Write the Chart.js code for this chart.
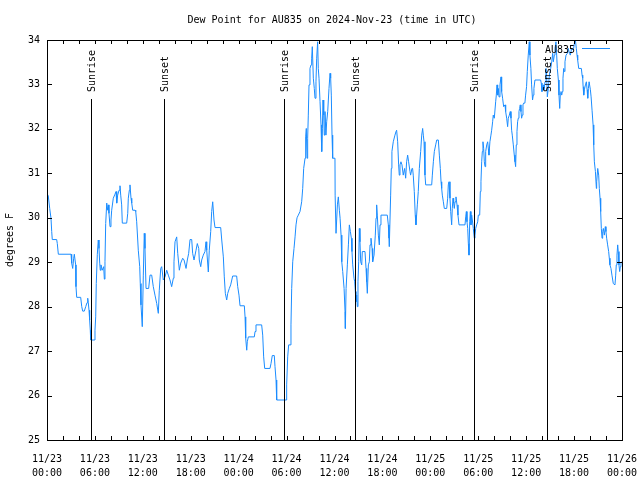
<!DOCTYPE html>
<html>
<head>
<meta charset="utf-8">
<script src="https://cdn.jsdelivr.net/npm/chart.js@4.4.1/dist/chart.umd.min.js"></script>
<style>
html,body{margin:0;padding:0;background:#fff;}
canvas{display:block;}
</style>
</head>
<body>
<canvas id="c" width="640" height="480"></canvas>
<script>
// ---- data (hours since 2024-11-23 00:00 UTC, dew point in °F) ----
const hours = [
0.00,0.16,0.34,0.50,0.59,0.66,1.21,1.29,1.42,3.01,3.09,3.22,3.34,3.42,3.59,3.63,3.72,4.22,4.35,4.47,
4.67,4.85,5.01,5.10,5.17,5.26,5.34,5.42,5.47,5.92,6.01,6.10,6.17,6.30,6.42,6.51,6.60,6.67,6.76,6.92,
7.10,7.18,7.26,7.35,7.48,7.60,7.68,7.76,7.89,8.01,8.10,8.30,8.51,8.64,8.73,8.85,9.02,9.14,9.23,9.35,
9.43,9.98,10.11,10.18,10.31,10.39,10.52,10.61,10.73,11.02,11.11,11.23,11.36,11.43,11.61,11.68,11.77,11.93,12.06,12.18,
12.27,12.40,12.73,12.90,13.11,13.31,13.52,13.74,13.94,14.06,14.24,14.36,14.56,14.78,14.99,15.19,15.40,15.61,15.82,15.90,
16.03,16.24,16.37,16.57,16.74,16.99,17.16,17.41,17.57,17.74,17.91,18.12,18.24,18.41,18.66,18.82,19.00,19.07,19.25,19.37,
19.57,19.78,19.91,20.00,20.20,20.32,20.50,20.62,20.75,20.91,21.04,21.75,21.88,22.08,22.20,22.33,22.50,22.63,22.83,23.00,
23.25,23.75,23.88,24.04,24.17,24.71,24.80,24.88,25.01,25.08,25.21,25.96,26.05,26.17,26.88,27.01,27.13,27.26,27.92,28.05,
28.21,28.46,28.55,28.68,28.76,29.93,30.01,30.14,30.26,30.43,30.55,30.64,30.77,30.93,31.06,31.18,31.31,31.47,31.68,31.89,
32.02,32.14,32.31,32.39,32.47,32.56,32.64,32.72,32.81,32.93,33.06,33.14,33.22,33.35,33.47,33.56,33.68,33.77,33.89,33.97,
34.06,34.19,34.31,34.40,34.48,34.56,34.65,34.72,34.81,34.93,35.02,35.15,35.31,35.44,35.52,35.60,35.69,35.77,36.06,36.08,
36.19,36.36,36.48,36.61,36.70,36.82,36.91,37.03,37.20,37.32,37.36,37.45,37.53,37.61,37.74,37.86,37.99,38.11,38.19,38.28,
38.44,38.53,38.61,38.69,38.78,38.86,38.94,39.03,39.11,39.19,39.28,39.41,39.48,39.82,39.95,40.03,40.11,40.24,40.36,40.45,
40.57,40.70,40.78,40.95,41.11,41.20,41.28,41.36,41.49,41.61,41.70,41.82,42.61,42.74,42.82,42.86,43.03,43.11,43.19,43.36,
43.57,43.70,43.78,43.91,44.03,44.11,44.20,44.32,44.45,44.61,44.78,44.91,45.03,45.16,45.28,45.45,45.53,45.70,45.78,45.86,
45.99,46.11,46.20,46.37,46.49,46.62,46.79,46.92,47.04,47.12,47.21,47.33,47.42,48.17,48.25,48.38,48.50,48.67,48.80,49.00,
49.13,49.25,49.34,49.42,49.50,49.63,49.75,50.05,50.17,50.25,50.34,50.46,50.55,50.67,50.75,50.84,50.92,51.00,51.09,51.21,
51.34,51.46,51.59,52.34,52.43,52.51,52.59,52.68,52.76,52.84,52.93,53.01,53.09,53.18,53.26,53.38,53.51,53.59,53.68,53.80,
53.93,54.01,54.18,54.26,54.34,54.43,54.51,54.59,54.68,54.76,54.85,54.93,55.06,55.18,55.26,55.34,55.46,55.59,55.68,55.80,
55.88,56.01,56.18,56.26,56.35,56.43,56.51,56.60,56.72,56.85,56.93,57.05,57.18,57.35,57.43,57.56,57.68,57.76,57.89,58.01,
58.10,58.18,58.26,58.39,58.51,58.60,58.68,58.76,58.85,58.93,59.01,59.10,59.18,59.26,59.35,59.43,59.51,59.60,59.68,59.84,
59.93,60.05,60.14,60.26,60.39,60.47,60.59,60.68,60.80,60.89,60.97,61.10,61.81,61.89,61.98,62.15,62.23,62.36,62.48,62.57,
62.65,62.78,62.90,63.07,63.20,63.32,63.40,63.53,63.61,63.73,63.82,63.90,64.03,64.11,64.20,64.28,64.36,64.45,64.53,64.61,
64.70,64.78,64.86,64.99,65.16,65.28,65.41,65.53,65.69,65.86,65.94,66.07,66.16,66.28,66.37,66.45,66.58,66.91,67.00,67.08,
67.13,67.21,67.29,67.42,67.54,67.63,67.71,67.79,67.88,67.96,68.04,68.13,68.25,68.38,68.46,68.54,68.67,68.79,68.83,68.96,
69.08,69.16,69.25,69.33,69.41,69.50,69.58,69.66,69.79,69.91,69.99,70.08,70.20,70.33,70.41,70.49,70.62,70.74,70.91,71.12,
71.21,71.28,71.37,71.46,71.53,71.62,71.71,71.79,71.87,72.00
];
const dewPoint = [
30.55,30.49,30.21,29.99,29.69,29.51,29.51,29.42,29.18,29.18,28.98,28.86,29.09,29.18,28.94,28.45,28.21,28.21,28.00,27.90,
27.90,28.00,28.09,28.19,28.09,27.92,27.70,27.47,27.25,27.25,27.47,27.77,28.52,29.18,29.50,29.31,28.98,28.82,28.94,28.82,
28.90,28.62,29.01,29.87,30.33,30.17,30.29,30.10,29.80,29.95,30.17,30.44,30.53,30.59,30.33,30.51,30.62,30.72,30.51,30.29,
29.88,29.88,30.10,30.44,30.62,30.74,30.44,30.33,30.17,30.17,30.14,29.91,29.50,29.27,28.90,28.52,28.04,27.55,28.71,29.65,
29.31,28.41,28.41,28.71,28.71,28.45,28.26,28.07,27.85,28.37,28.86,28.90,28.60,28.67,28.82,28.71,28.60,28.45,28.64,29.01,
29.46,29.57,29.20,28.82,28.98,29.09,29.05,28.86,29.05,29.20,29.51,29.51,29.20,29.05,29.27,29.42,29.31,29.05,28.90,29.05,
29.16,29.24,29.46,29.27,28.78,29.27,29.69,30.14,30.36,29.95,29.78,29.78,29.50,29.12,28.67,28.30,28.15,28.30,28.41,28.49,
28.69,28.69,28.45,28.26,28.02,28.02,27.77,27.29,27.02,27.21,27.32,27.32,27.44,27.59,27.59,27.36,26.87,26.61,26.61,26.72,
26.90,26.90,26.65,26.35,25.90,25.90,26.24,26.87,27.14,27.14,27.59,28.41,29.01,29.31,29.57,29.84,30.00,30.06,30.14,30.36,
30.66,31.11,31.34,31.82,32.01,31.34,31.79,32.31,32.99,33.36,33.44,33.59,33.85,33.14,32.91,32.69,33.06,33.59,33.96,33.36,
33.14,32.61,32.09,31.49,32.01,32.65,32.31,31.86,32.39,31.86,32.16,32.39,32.91,33.25,33.14,32.76,31.86,31.34,31.34,30.51,
29.65,30.29,30.47,30.17,29.99,29.61,29.01,28.79,28.41,27.89,27.51,28.41,28.41,28.94,29.39,29.84,29.69,29.54,29.24,28.94,
28.64,28.56,28.34,28.11,28.26,28.00,28.56,29.01,29.76,29.46,29.01,28.94,29.24,29.24,28.86,28.56,28.30,28.94,29.01,29.39,
29.54,29.31,29.01,29.16,29.61,29.99,30.29,30.06,29.61,29.39,29.84,30.06,30.06,29.84,29.54,29.35,30.51,31.11,31.49,31.71,
31.86,31.94,31.97,31.71,31.19,30.96,31.19,31.26,31.19,30.96,31.11,30.89,31.26,31.41,31.26,31.04,30.96,31.11,31.11,30.96,
30.59,30.06,29.84,30.29,30.59,31.11,31.49,31.86,32.01,31.86,31.71,30.96,30.74,30.74,30.96,31.26,31.49,31.64,31.75,31.75,
31.41,31.11,30.81,30.66,30.51,30.36,30.21,30.21,30.44,30.74,30.81,30.44,30.14,29.84,30.21,30.44,30.33,30.21,30.36,30.47,
30.29,30.06,29.84,29.84,30.02,30.14,29.91,29.76,29.42,29.16,29.91,30.14,29.84,30.06,29.95,29.76,29.54,29.61,29.76,29.84,
29.91,30.06,30.06,30.59,30.81,31.26,31.49,31.71,31.56,31.26,31.15,31.49,31.64,31.71,31.56,31.41,31.71,31.86,31.97,32.16,
32.31,32.24,32.61,32.76,32.99,32.76,32.91,32.72,32.99,33.17,32.84,32.69,32.50,32.54,32.39,32.24,32.05,32.24,32.31,32.39,
32.24,31.97,31.86,31.64,31.41,31.26,31.15,31.64,31.94,32.16,32.24,32.39,32.46,32.54,32.39,32.24,32.31,32.54,32.58,32.58,
32.76,32.95,33.29,33.66,33.96,33.66,33.36,32.99,32.65,32.76,32.91,33.10,33.10,33.03,32.84,32.99,32.88,33.06,33.36,33.21,
32.72,32.91,33.21,33.36,33.51,33.70,33.51,33.66,33.81,33.96,33.66,33.36,33.10,32.76,32.46,32.80,32.84,32.76,32.84,33.14,
33.36,33.29,33.51,33.66,33.70,33.81,33.70,33.66,33.81,33.78,33.81,33.96,34.00,33.81,33.66,33.55,33.36,33.36,33.21,33.14,
32.95,32.76,32.88,32.99,33.06,32.88,32.69,32.91,33.06,33.06,32.88,32.72,32.42,32.09,31.64,31.26,31.04,30.66,30.81,31.11,
30.96,30.66,30.44,30.14,29.76,29.54,29.69,29.76,29.61,29.80,29.69,29.54,29.39,29.24,29.09,28.94,28.86,28.71,28.52,28.49,
28.71,28.94,29.16,29.39,29.24,28.94,28.79,28.90,29.00,29.00
];
const xTickLabels = [
  ['11/23','00:00'],['11/23','06:00'],['11/23','12:00'],['11/23','18:00'],
  ['11/24','00:00'],['11/24','06:00'],['11/24','12:00'],['11/24','18:00'],
  ['11/25','00:00'],['11/25','06:00'],['11/25','12:00'],['11/25','18:00'],
  ['11/26','00:00']
];
const eventNames = ['Sunrise','Sunset','Sunrise','Sunset','Sunrise','Sunset'];
const eventHours = [5.55, 14.69, 29.64, 38.61, 53.51, 62.65];
const seriesName = 'AU835';
const chartTitle = 'Dew Point for AU835 on 2024-Nov-23 (time in UTC)';
const yAxisTitle = 'degrees F';

const FONT = 'DejaVu Sans Mono';
const LINE_COLOR = '#1a8cff';

const points = hours.map((h, i) => ({x: h, y: dewPoint[i]}));

const decor = {
  id: 'decor',
  afterDatasetsDraw(chart) {
    const ctx = chart.ctx;
    const a = chart.chartArea;
    const xs = chart.scales.x, ys = chart.scales.y;
    ctx.save();
    ctx.strokeStyle = '#000';
    ctx.lineWidth = 1;
    ctx.fillStyle = '#000';
    ctx.font = '10px "' + FONT + '"';
    // sunrise / sunset markers
    eventHours.forEach((h, i) => {
      const px = Math.round(xs.getPixelForValue(h)) + 0.5;
      const top = a.top + 59;
      ctx.beginPath();
      ctx.moveTo(px, top);
      ctx.lineTo(px, a.bottom);
      ctx.stroke();
      ctx.save();
      ctx.translate(px + 1, top - 7);
      ctx.rotate(-Math.PI / 2);
      ctx.textAlign = 'left';
      ctx.textBaseline = 'middle';
      ctx.fillText(eventNames[i], 0, 0);
      ctx.restore();
    });
    // border
    ctx.strokeRect(Math.round(a.left) + 0.5, Math.round(a.top) + 0.5,
                   Math.round(a.right - a.left), Math.round(a.bottom - a.top));
    // inward ticks
    ctx.beginPath();
    for (let h = 0; h <= 72; h += 2) {
      const px = Math.round(xs.getPixelForValue(h)) + 0.5;
      ctx.moveTo(px, a.bottom); ctx.lineTo(px, a.bottom - 4);
      ctx.moveTo(px, a.top); ctx.lineTo(px, a.top + 4);
    }
    for (let v = 25; v <= 34; v += 1) {
      const py = Math.round(ys.getPixelForValue(v)) + 0.5;
      ctx.moveTo(a.left, py); ctx.lineTo(a.left + 5, py);
      ctx.moveTo(a.right, py); ctx.lineTo(a.right - 5, py);
    }
    ctx.stroke();
    // legend
    ctx.textAlign = 'right';
    ctx.textBaseline = 'middle';
    ctx.fillStyle = '#000';
    ctx.fillText(chart.data.datasets[0].label, a.right - 47, a.top + 10);
    ctx.strokeStyle = LINE_COLOR;
    ctx.beginPath();
    ctx.moveTo(a.right - 40, a.top + 8.5);
    ctx.lineTo(a.right - 12, a.top + 8.5);
    ctx.stroke();
    // title
    ctx.textAlign = 'center';
    ctx.fillStyle = '#000';
    ctx.fillText(chartTitle, 332, 20);
    ctx.restore();
  }
};

new Chart(document.getElementById('c'), {
  type: 'line',
  data: {
    datasets: [{
      label: seriesName,
      data: points,
      borderColor: LINE_COLOR,
      borderWidth: 1,
      pointRadius: 0,
      tension: 0,
      fill: false
    }]
  },
  options: {
    responsive: false,
    animation: false,
    devicePixelRatio: 1,
    parsing: false,
    layout: { padding: { top: 40, right: 18, left: 0, bottom: 0 } },
    plugins: { legend: { display: false }, title: { display: false }, tooltip: { enabled: false } },
    scales: {
      x: {
        type: 'linear',
        min: 0, max: 72,
        grid: { display: false, drawTicks: false },
        border: { display: false },
        ticks: {
          stepSize: 6,
          autoSkip: false,
          maxRotation: 0, minRotation: 0,
          padding: 13,
          color: '#000',
          font: { family: FONT, size: 10, lineHeight: 1.35 },
          callback: (v) => xTickLabels[Math.round(v / 6)]
        },
        afterFit: (s) => { s.height = 40; s.paddingLeft = 0; s.paddingRight = 0; }
      },
      y: {
        min: 25, max: 34,
        grid: { display: false, drawTicks: false },
        border: { display: false },
        ticks: {
          stepSize: 1,
          padding: 7,
          color: '#000',
          font: { family: FONT, size: 10 }
        },
        title: {
          display: true,
          text: yAxisTitle,
          color: '#000',
          font: { family: FONT, size: 10 },
          padding: { top: 4, bottom: 4 }
        },
        afterFit: (s) => { s.width = 47; s.paddingTop = 0; s.paddingBottom = 0; }
      }
    }
  },
  plugins: [decor]
});
</script>
</body>
</html>
